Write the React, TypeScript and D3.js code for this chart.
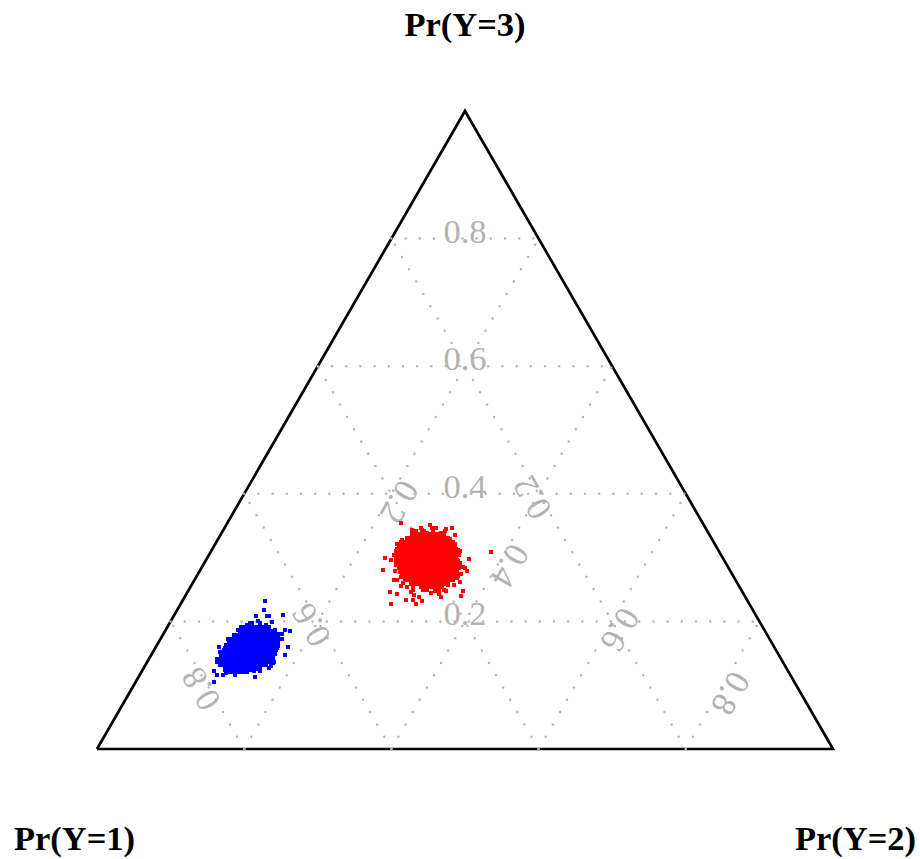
import React from 'react';
import * as d3 from 'd3';

// tick values shown on each of the three axes
const ticks = [0.2, 0.4, 0.6, 0.8];
const cornerLabels = ['Pr(Y=1)', 'Pr(Y=2)', 'Pr(Y=3)'];

// Points are [Pr(Y=2) + Pr(Y=3) / 2, Pr(Y=3)].
// The middle of each cloud is overplotted, so it is listed row by row.
const redEdge: [number, number][] = [
  [0.413, 0.355], [0.535, 0.309], [0.506, 0.298], [0.391, 0.299], [0.399, 0.296], [0.388, 0.28],
  [0.398, 0.246], [0.407, 0.243], [0.4, 0.227], [0.42, 0.234], [0.429, 0.234], [0.433, 0.228],
  [0.441, 0.232], [0.437, 0.239], [0.431, 0.242], [0.426, 0.246], [0.429, 0.253], [0.497, 0.248],
  [0.495, 0.24], [0.467, 0.238], [0.465, 0.243], [0.454, 0.245], [0.471, 0.249], [0.474, 0.248],
  [0.503, 0.279], [0.5, 0.283], [0.497, 0.286], [0.495, 0.275], [0.493, 0.262], [0.485, 0.257],
  [0.491, 0.271], [0.492, 0.304], [0.493, 0.31], [0.486, 0.335], [0.483, 0.346], [0.474, 0.345],
  [0.473, 0.341], [0.461, 0.346], [0.452, 0.351], [0.455, 0.346], [0.44, 0.347], [0.428, 0.343],
  [0.434, 0.342], [0.444, 0.342], [0.428, 0.337], [0.465, 0.337], [0.406, 0.31], [0.403, 0.304],
  [0.406, 0.294], [0.405, 0.279], [0.404, 0.265], [0.408, 0.265], [0.413, 0.256],
  [0.483, 0.32], [0.486, 0.322], [0.491, 0.312], [0.489, 0.296], [0.493, 0.291], [0.491, 0.283],
  [0.486, 0.278], [0.489, 0.268], [0.407, 0.322], [0.414, 0.328], [0.416, 0.32], [0.411, 0.315],
  [0.406, 0.288], [0.413, 0.27], [0.416, 0.26], [0.43, 0.335], [0.441, 0.343], [0.448, 0.338],
  [0.457, 0.341], [0.468, 0.338], [0.477, 0.328], [0.48, 0.329], [0.443, 0.25], [0.448, 0.25],
  [0.459, 0.248], [0.464, 0.249], [0.477, 0.257], [0.421, 0.254], [0.43, 0.249],
];

const redRows: [number, number[]][] = [
  [0.337, [0.432, 0.438, 0.443, 0.448, 0.454, 0.459, 0.465, 0.47]],
  [0.331, [0.421, 0.427, 0.432, 0.438, 0.443, 0.448, 0.454, 0.459, 0.465, 0.47, 0.476]],
  [0.325, [0.413, 0.418, 0.424, 0.429, 0.435, 0.44, 0.446, 0.451, 0.457, 0.462, 0.467, 0.473, 0.478, 0.482]],
  [0.319, [0.41, 0.416, 0.421, 0.427, 0.432, 0.438, 0.443, 0.448, 0.454, 0.459, 0.465, 0.47, 0.476, 0.481, 0.485]],
  [0.313, [0.407, 0.412, 0.417, 0.423, 0.428, 0.434, 0.439, 0.445, 0.45, 0.455, 0.461, 0.466, 0.472, 0.477, 0.483, 0.487]],
  [0.307, [0.408, 0.413, 0.418, 0.424, 0.429, 0.435, 0.44, 0.446, 0.451, 0.457, 0.462, 0.467, 0.473, 0.478, 0.484, 0.488]],
  [0.301, [0.406, 0.411, 0.417, 0.422, 0.427, 0.433, 0.438, 0.444, 0.449, 0.455, 0.46, 0.465, 0.471, 0.476, 0.482, 0.487]],
  [0.295, [0.408, 0.413, 0.418, 0.424, 0.429, 0.435, 0.44, 0.446, 0.451, 0.457, 0.462, 0.467, 0.473, 0.478, 0.484, 0.489]],
  [0.289, [0.409, 0.414, 0.419, 0.425, 0.43, 0.436, 0.441, 0.447, 0.452, 0.457, 0.463, 0.468, 0.474, 0.479, 0.485, 0.49]],
  [0.283, [0.41, 0.416, 0.421, 0.427, 0.432, 0.438, 0.443, 0.448, 0.454, 0.459, 0.465, 0.47, 0.476, 0.481, 0.486, 0.491]],
  [0.277, [0.412, 0.417, 0.423, 0.428, 0.434, 0.439, 0.445, 0.45, 0.455, 0.461, 0.466, 0.472, 0.477, 0.483, 0.488]],
  [0.271, [0.415, 0.42, 0.426, 0.431, 0.437, 0.442, 0.447, 0.453, 0.458, 0.464, 0.469, 0.475, 0.48, 0.485]],
  [0.265, [0.419, 0.424, 0.43, 0.435, 0.441, 0.446, 0.451, 0.457, 0.462, 0.468, 0.473, 0.479, 0.483]],
  [0.259, [0.427, 0.432, 0.438, 0.443, 0.448, 0.454, 0.459, 0.465, 0.47, 0.476]],
  [0.254, [0.44, 0.446, 0.451, 0.457, 0.462, 0.467]],
];

const blueEdge: [number, number][] = [
  [0.228, 0.232], [0.227, 0.218], [0.216, 0.209], [0.231, 0.209], [0.234, 0.209], [0.253, 0.21],
  [0.219, 0.2], [0.238, 0.199], [0.21, 0.198], [0.262, 0.185], [0.255, 0.187], [0.251, 0.181],
  [0.252, 0.173], [0.26, 0.16], [0.255, 0.147], [0.166, 0.16], [0.178, 0.172], [0.175, 0.163],
  [0.167, 0.152], [0.163, 0.141], [0.159, 0.123], [0.159, 0.105], [0.163, 0.116], [0.171, 0.116],
  [0.175, 0.119], [0.188, 0.116], [0.202, 0.122], [0.215, 0.113], [0.213, 0.123], [0.221, 0.123],
  [0.234, 0.127], [0.239, 0.135], [0.236, 0.13], [0.246, 0.163], [0.244, 0.158], [0.196, 0.191],
  [0.204, 0.195],
  [0.199, 0.189], [0.208, 0.197], [0.221, 0.197], [0.23, 0.194], [0.242, 0.186], [0.246, 0.181],
  [0.249, 0.173], [0.244, 0.166], [0.242, 0.153], [0.237, 0.145], [0.24, 0.137], [0.23, 0.132],
  [0.221, 0.128], [0.208, 0.124], [0.194, 0.124], [0.183, 0.121], [0.174, 0.124], [0.167, 0.132],
  [0.163, 0.137], [0.169, 0.147], [0.174, 0.158], [0.181, 0.168], [0.186, 0.179], [0.192, 0.186],
];

const blueRows: [number, number[]][] = [
  [0.191, [0.2, 0.205, 0.211, 0.216, 0.221, 0.227, 0.232]],
  [0.185, [0.194, 0.199, 0.205, 0.21, 0.216, 0.221, 0.226, 0.232, 0.237, 0.241]],
  [0.179, [0.187, 0.192, 0.198, 0.203, 0.209, 0.214, 0.22, 0.225, 0.23, 0.236, 0.241, 0.245]],
  [0.173, [0.183, 0.188, 0.194, 0.199, 0.205, 0.21, 0.215, 0.221, 0.226, 0.232, 0.237, 0.243, 0.246]],
  [0.167, [0.18, 0.185, 0.191, 0.196, 0.202, 0.207, 0.213, 0.218, 0.223, 0.229, 0.234, 0.24, 0.245]],
  [0.161, [0.176, 0.181, 0.187, 0.192, 0.198, 0.203, 0.208, 0.214, 0.219, 0.225, 0.23, 0.236, 0.241, 0.245]],
  [0.155, [0.173, 0.178, 0.184, 0.189, 0.195, 0.2, 0.206, 0.211, 0.216, 0.222, 0.227, 0.233, 0.238, 0.242]],
  [0.149, [0.17, 0.175, 0.181, 0.186, 0.192, 0.197, 0.203, 0.208, 0.213, 0.219, 0.224, 0.23, 0.235, 0.24]],
  [0.143, [0.169, 0.174, 0.18, 0.185, 0.191, 0.196, 0.201, 0.207, 0.212, 0.218, 0.223, 0.229, 0.234, 0.238]],
  [0.137, [0.169, 0.174, 0.18, 0.185, 0.191, 0.196, 0.201, 0.207, 0.212, 0.218, 0.223, 0.229, 0.234]],
  [0.131, [0.171, 0.176, 0.182, 0.187, 0.193, 0.198, 0.204, 0.209, 0.214, 0.22, 0.225]],
  [0.125, [0.174, 0.179, 0.185, 0.19, 0.196, 0.201, 0.207, 0.212, 0.217]],
  [0.121, [0.181, 0.186, 0.192, 0.197, 0.203]],
];

const width = 920;
const height = 859;
const grey = '#b3b3b3';
const serif = '"Liberation Serif", serif';
const dotGap = 14.2;
const markSize = 4;

const xScale = d3.scaleLinear().domain([0, 1]).range([97, 833]);
const yScale = d3.scaleLinear().domain([0, 1]).range([749, 111]);

// (Pr(Y=2), Pr(Y=3)) to pixels
const project = (p2: number, p3: number): [number, number] => [xScale(p2 + p3 / 2), yScale(p3)];

const toPath = d3.line();

const expand = (rows: [number, number[]][]) =>
  rows.flatMap(([p3, ts]) => ts.map((t) => [t, p3] as [number, number]));

const Cloud = ({ points, color, wide = 0 }: { points: [number, number][]; color: string; wide?: number }) => (
  <g fill={color}>
    {points.map(([t, p3], i) => (
      <rect
        key={i}
        x={Math.round(xScale(t) - markSize / 2)}
        y={Math.round(yScale(p3) - markSize / 2)}
        width={markSize + wide}
        height={markSize}
      />
    ))}
  </g>
);

export default function App() {
  const triangle = toPath([project(0, 0), project(1, 0), project(0, 1), project(0, 0)]);

  // one line per tick for each probability held constant
  const gridLines = ticks.flatMap((v) => [
    [project(0, v), project(1 - v, v)], // Pr(Y=3) = v, left to right
    [project(v, 0), project(v, 1 - v)], // Pr(Y=2) = v, from the base up
    [project(1 - v, 0), project(0, 1 - v)], // Pr(Y=1) = v, from the base up
  ]);

  // labels sit on the altitude that runs from each corner
  const labels = ticks.flatMap((v) => {
    const rest = (1 - v) / 2;
    const onP2 = project(v, rest);
    return [
      { v, pos: project(rest, v), angle: 0 },
      { v, pos: [onP2[0] + 1.5, onP2[1] + 4.5], angle: 120 },
      { v, pos: project(rest, rest), angle: -120 },
    ];
  });

  return (
    <svg
      width={width}
      height={height}
      style={{ position: 'absolute', left: 0, top: 0, background: '#fff' }}
    >
      <path d={triangle ?? ''} fill="none" stroke="#000" strokeWidth={2.7} strokeLinejoin="miter" />
      <g fill="none" stroke={grey} strokeWidth={2.5} strokeLinecap="round" strokeDasharray={`0 ${dotGap}`}>
        {gridLines.map((line, i) => (
          <path key={i} d={toPath(line as [number, number][]) ?? ''} />
        ))}
      </g>
      <g fill={grey} fontFamily={serif} fontSize={34.5} textAnchor="middle">
        {labels.map((d, i) => (
          <text key={i} transform={`translate(${d.pos[0]},${d.pos[1]}) rotate(${d.angle})`} y={4}>
            {d3.format('.1f')(d.v)}
          </text>
        ))}
      </g>
      {/* core rows get one extra pixel so the rounded squares close up */}
      <Cloud points={expand(redRows)} color="#ff0000" wide={1} />
      <Cloud points={redEdge} color="#ff0000" />
      <Cloud points={expand(blueRows)} color="#0000ff" wide={1} />
      <Cloud points={blueEdge} color="#0000ff" />
      <g fontFamily={serif} fontSize={34.5} fontWeight="bold" textAnchor="middle" fill="#000">
        <text x={74.5} y={850}>{cornerLabels[0]}</text>
        <text x={855.5} y={850}>{cornerLabels[1]}</text>
        <text x={465} y={36}>{cornerLabels[2]}</text>
      </g>
    </svg>
  );
}
